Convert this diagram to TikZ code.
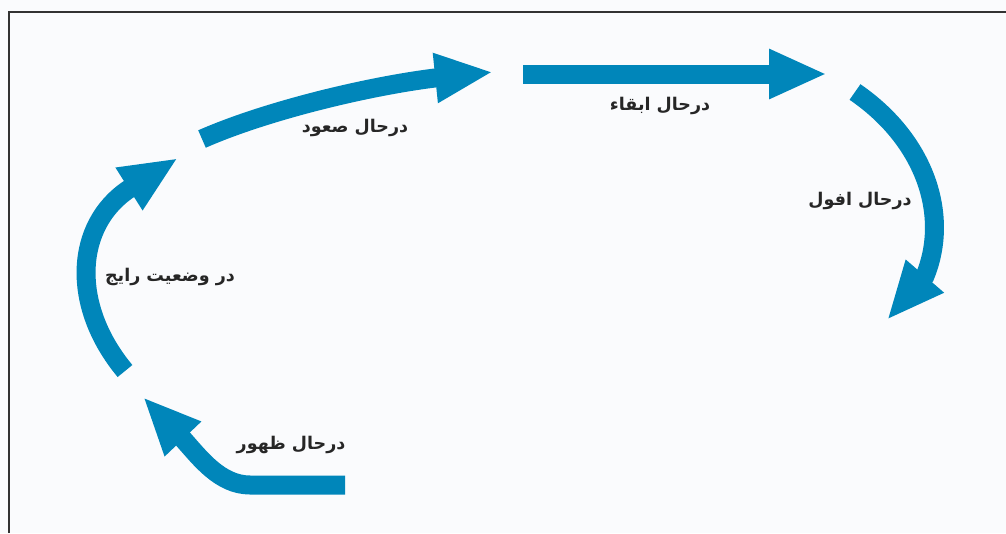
\documentclass[tikz,border=0pt]{standalone}
\usepackage{fontspec}
\usetikzlibrary{arrows.meta}
\TeXXeTstate=1
\newfontfamily\arabicfont[Script=Arabic]{DejaVu Sans}
\definecolor{flowblue}{RGB}{0,134,186}
\definecolor{paper}{RGB}{250,251,253}

\begin{document}
\begin{tikzpicture}[x=1pt,y=-1pt]
    \tikzstyle{every node}=[font=\arabicfont\bfseries\fontsize{17.5}{21}\selectfont, text=black!85]
    \tikzstyle{flow}=[draw=flowblue, line width=19pt, -{Triangle[length=58pt,width=46pt]}]
    \useasboundingbox (0,0) rectangle (1006,533);
    \fill[paper] (0,0) rectangle (1006,533);
    \draw[black!80, line width=2pt] (9,533) -- (9,12) -- (1006,12);

    % arrow ends
    \coordinate (e1) at (345,485);  \coordinate (e2) at (143,397);
    \coordinate (r1) at (125,371);  \coordinate (r2) at (178,158);
    \coordinate (a1) at (202,139);  \coordinate (a2) at (493,72);
    \coordinate (m1) at (523,74);   \coordinate (m2) at (827,74);
    \coordinate (d1) at (855,92);   \coordinate (d2) at (887,320);

    \draw[flow] (e1) -- (250,485) .. controls (220,485) and (200,458) .. (183,439) -- (e2);
    \draw[flow] (r1) .. controls (70,305) and (75,225) .. (129,189) -- (r2);
    \draw[flow] (a1) .. controls (268,110) and (370,86) .. (435,78) -- (a2);
    \draw[flow] (m1) -- (m2);
    \draw[flow] (d1) .. controls (925,140) and (950,215) .. (925,276) -- (d2);

    \node (emerge) at (291,445) {\beginR درحال ظهور\endR};
    \node (current) at (170,277) {\beginR در وضعیت رایج\endR};
    \node (ascent) at (355,128) {\beginR درحال صعود\endR};
    \node (keep) at (660,106) {\beginR درحال ابقاء\endR};
    \node (decline) at (860,201) {\beginR درحال افول\endR};
\end{tikzpicture}
\end{document}
